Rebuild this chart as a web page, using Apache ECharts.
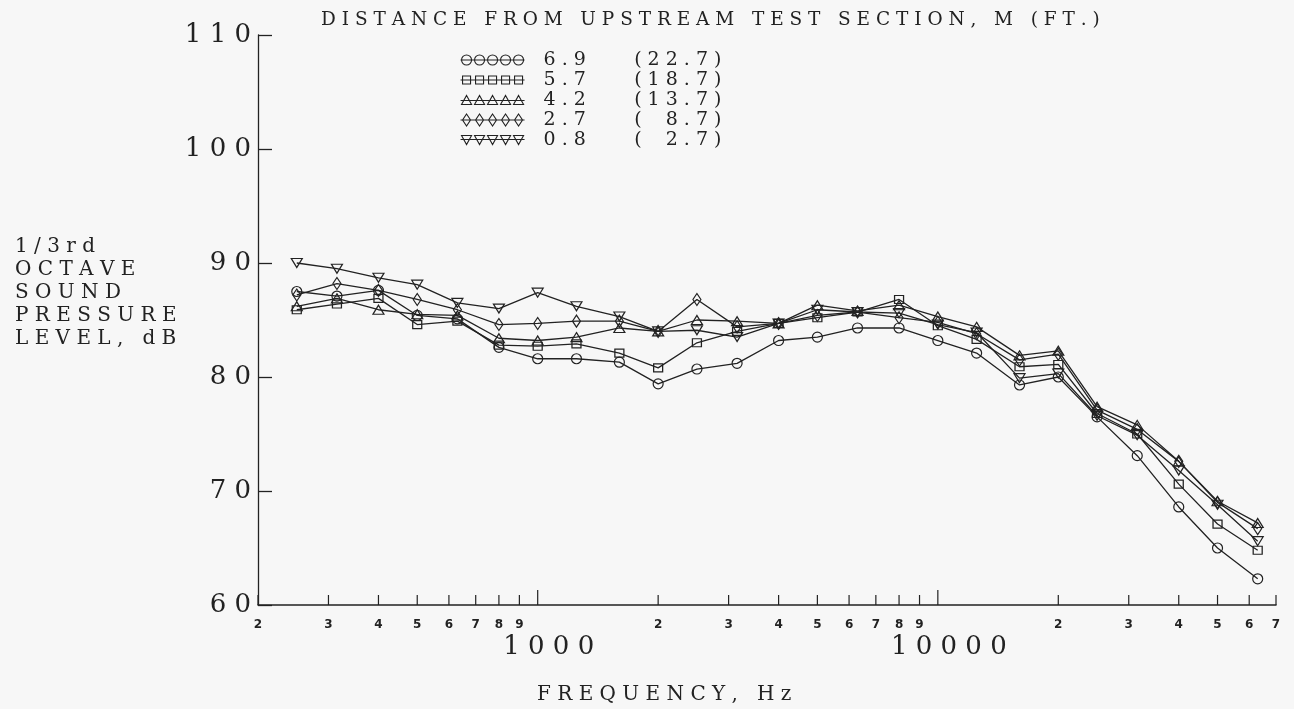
<!DOCTYPE html>
<html>
<head>
<meta charset="utf-8">
<title>1/3rd octave sound pressure level</title>
<script src="https://cdn.jsdelivr.net/npm/echarts@6/dist/echarts.min.js"></script>
<style>
  html, body { margin: 0; padding: 0; background: #f7f7f7; }
  #main { width: 1294px; height: 709px; }
</style>
</head>
<body>
<div id="main"></div>
<script>
// 1/3 octave band centre frequencies, Hz
var freqHz = [250, 315, 400, 500, 630, 800, 1000, 1250, 1600, 2000, 2500, 3150, 4000,
              5000, 6300, 8000, 10000, 12500, 16000, 20000, 25000, 31500, 40000, 50000, 63000];

// distance from upstream test section
var distM  = ['6.9', '5.7', '4.2', '2.7', '0.8'];
var distFt = ['22.7', '18.7', '13.7', '8.7', '2.7'];

// sound pressure level, dB
var spl69 = [87.5, 87.1, 87.6, 85.4, 85.1, 82.6, 81.6, 81.6, 81.3, 79.4, 80.7, 81.2, 83.2,
             83.5, 84.3, 84.3, 83.2, 82.1, 79.3, 80.0, 76.5, 73.1, 68.6, 65.0, 62.3];
var spl57 = [85.9, 86.4, 86.9, 84.6, 84.9, 82.8, 82.7, 82.9, 82.1, 80.8, 83.0, 84.0, 84.7,
             85.2, 85.7, 86.8, 84.5, 83.3, 80.9, 81.1, 76.8, 75.0, 70.6, 67.1, 64.8];
var spl42 = [86.2, 86.9, 85.9, 85.5, 85.4, 83.4, 83.2, 83.5, 84.3, 84.0, 85.0, 84.9, 84.7,
             86.3, 85.8, 86.3, 85.3, 84.4, 81.9, 82.3, 77.4, 75.8, 72.6, 69.1, 67.2];
var spl27 = [87.2, 88.2, 87.6, 86.8, 85.9, 84.6, 84.7, 84.9, 84.9, 84.0, 86.8, 84.4, 84.7,
             85.4, 85.7, 85.2, 84.8, 83.8, 81.5, 82.0, 77.1, 75.4, 72.6, 69.0, 66.7];
var spl08 = [90.0, 89.5, 88.7, 88.1, 86.5, 86.0, 87.4, 86.2, 85.3, 84.0, 84.1, 83.5, 84.7,
             85.9, 85.7, 85.6, 84.6, 83.9, 79.9, 80.3, 76.6, 74.9, 71.8, 68.8, 65.6];
var splAll = [spl69, spl57, spl42, spl27, spl08];

// x axis tick labels
var minorTickHz = [200, 300, 400, 500, 600, 700, 800, 900,
                   2000, 3000, 4000, 5000, 6000, 7000, 8000, 9000,
                   20000, 30000, 40000, 50000, 60000, 70000];
var minorTickLabels = ['2', '3', '4', '5', '6', '7', '8', '9',
                       '2', '3', '4', '5', '6', '7', '8', '9',
                       '2', '3', '4', '5', '6', '7'];
var majorTickHz = [1000, 10000];
var majorTickLabels = ['1000', '10000'];

var ink = '#222';
var serif = '"DejaVu Serif", "Liberation Serif", serif';

// the old plotter printed its letters wide apart
function spaced(s) {
    return s.split('').join(' ');
}

// legend sample: a short line with five markers on it
function legendPath(kind) {
    var p = 'M0 6 L64 6';
    [6, 19, 32, 45, 58].forEach(function (cx) {
        if (kind === 'circle') {
            p += ' M' + (cx - 5) + ' 6 A5 5 0 1 1 ' + (cx + 5) + ' 6 A5 5 0 1 1 ' + (cx - 5) + ' 6 Z';
        } else if (kind === 'rect') {
            p += ' M' + (cx - 4) + ' 2 L' + (cx + 4) + ' 2 L' + (cx + 4) + ' 10 L' + (cx - 4) + ' 10 Z';
        } else if (kind === 'triangle') {
            p += ' M' + cx + ' 1 L' + (cx + 5) + ' 10 L' + (cx - 5) + ' 10 Z';
        } else if (kind === 'diamond') {
            p += ' M' + cx + ' 0 L' + (cx + 4) + ' 6 L' + cx + ' 12 L' + (cx - 4) + ' 6 Z';
        } else {
            p += ' M' + (cx - 5) + ' 2 L' + (cx + 5) + ' 2 L' + cx + ' 11 Z';
        }
    });
    return 'path://' + p;
}

var markers = [
    {symbol: 'circle',   size: 10,      rotate: 0,   icon: 'circle'},
    {symbol: 'rect',     size: [9, 8],  rotate: 0,   icon: 'rect'},
    {symbol: 'triangle', size: [11, 9], rotate: 0,   icon: 'triangle'},
    {symbol: 'diamond',  size: [8, 12], rotate: 0,   icon: 'diamond'},
    {symbol: 'triangle', size: [11, 9], rotate: 180, icon: 'down'}
];

var names = distM.map(function (m, i) { return m + ' (' + distFt[i] + ')'; });

var series = names.map(function (name, i) {
    return {
        name: name,
        type: 'line',
        data: freqHz.map(function (f, j) { return [f, splAll[i][j]]; }),
        symbol: markers[i].symbol,
        symbolSize: markers[i].size,
        symbolRotate: markers[i].rotate,
        color: ink,
        lineStyle: {color: ink, width: 1.3},
        itemStyle: {color: 'rgba(0,0,0,0)', borderColor: ink, borderWidth: 1.2},
        emphasis: {disabled: true},
        z: 3
    };
});

// tick marks and labels of the log frequency axis
series.push({
    type: 'custom',
    name: 'minorTicks',
    data: minorTickHz.map(function (f) { return [f, 60]; }),
    silent: true,
    renderItem: function (params, api) {
        var p = api.coord([api.value(0), api.value(1)]);
        return {
            type: 'group',
            children: [
                {type: 'line', shape: {x1: p[0], y1: p[1], x2: p[0], y2: p[1] - 10},
                 style: {stroke: ink, lineWidth: 1.2}},
                {type: 'text', style: {text: minorTickLabels[params.dataIndex], x: p[0], y: p[1] + 20,
                 align: 'center', verticalAlign: 'middle', fill: ink,
                 font: 'bold 12px "DejaVu Sans", sans-serif'}}
            ]
        };
    }
});
series.push({
    type: 'custom',
    name: 'majorTicks',
    data: majorTickHz.map(function (f) { return [f, 60]; }),
    silent: true,
    renderItem: function (params, api) {
        var p = api.coord([api.value(0), api.value(1)]);
        return {
            type: 'group',
            children: [
                {type: 'line', shape: {x1: p[0], y1: p[1], x2: p[0], y2: p[1] - 15},
                 style: {stroke: ink, lineWidth: 1.2}},
                {type: 'text', style: {text: spaced(majorTickLabels[params.dataIndex]), x: p[0] + 11, y: p[1] + 42,
                 align: 'center', verticalAlign: 'middle', fill: ink,
                 font: '26px ' + serif}}
            ]
        };
    }
});

var myChart = echarts.init(document.getElementById('main'));

myChart.setOption({
    backgroundColor: '#f7f7f7',
    animation: false,
    title: [
        {
            text: spaced('DISTANCE FROM UPSTREAM TEST SECTION, M (FT.)'),
            left: 316, top: 6,
            textStyle: {fontFamily: serif, fontSize: 18.5, fontWeight: 'normal', color: ink}
        },
        {
            text: spaced('FREQUENCY, Hz'),
            left: 532, top: 680,
            textStyle: {fontFamily: serif, fontSize: 20, fontWeight: 'normal', color: ink}
        },
        {
            text: ['1/3rd', 'OCTAVE', 'SOUND', 'PRESSURE', 'LEVEL, dB'].map(spaced).join('\n'),
            left: 10, top: 230,
            textStyle: {fontFamily: serif, fontSize: 20, fontWeight: 'normal', color: ink, lineHeight: 23}
        }
    ],
    legend: {
        data: names.map(function (n, i) { return {name: n, icon: legendPath(markers[i].icon)}; }),
        orient: 'vertical',
        left: 460, top: 50,
        padding: 0,
        itemWidth: 64, itemHeight: 12, itemGap: 0,
        selectedMode: false,
        itemStyle: {color: 'rgba(0,0,0,0)', borderColor: ink, borderWidth: 1.1},
        formatter: function (name) {
            var i = names.indexOf(name);
            var ft = distFt[i].length < 4 ? '   ' + spaced(distFt[i]) : spaced(distFt[i]);
            return spaced(distM[i]) + '        ( ' + ft + ' )';
        },
        textStyle: {fontFamily: serif, fontSize: 19, color: ink, lineHeight: 20, padding: [0, 0, 0, 14]}
    },
    grid: {left: 258, right: 18, top: 35, bottom: 104},
    xAxis: {
        type: 'log',
        logBase: 10,
        min: 200,
        max: 70000,
        axisLine: {show: true, lineStyle: {color: ink, width: 1.5}},
        axisTick: {show: false},
        axisLabel: {show: false},
        splitLine: {show: false},
        minorTick: {show: false},
        minorSplitLine: {show: false}
    },
    yAxis: {
        type: 'value',
        min: 60,
        max: 110,
        interval: 10,
        axisLine: {show: true, lineStyle: {color: ink, width: 1.3}},
        axisTick: {show: true, inside: true, length: 14, lineStyle: {color: ink, width: 1.3}},
        axisLabel: {
            margin: 7,
            color: ink,
            fontFamily: serif,
            fontSize: 26,
            formatter: function (v) { return spaced(String(v)); }
        },
        splitLine: {show: false}
    },
    series: series
});
</script>
</body>
</html>
